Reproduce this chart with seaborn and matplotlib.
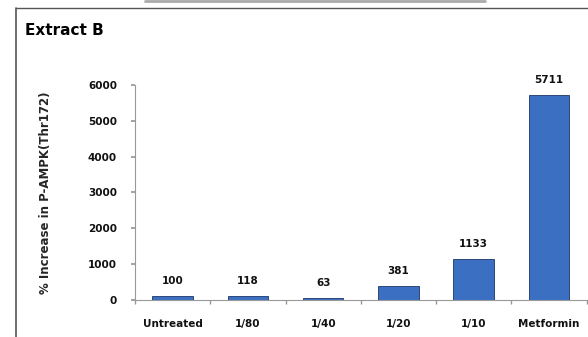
import matplotlib
matplotlib.use("Agg")
import matplotlib.pyplot as plt
import seaborn as sns
import pandas as pd
from matplotlib.lines import Line2D
from matplotlib.ticker import FixedLocator

categories = ["Untreated", "1/80", "1/40", "1/20", "1/10", "Metformin"]
values = [100, 118, 63, 381, 1133, 5711]
yticks = [0, 1000, 2000, 3000, 4000, 5000, 6000]

df = pd.DataFrame({"cat": categories, "val": values})

sns.set_theme(style="white")
plt.rcParams['font.family'] = ['DejaVu Sans']

fig = plt.figure(figsize=(5.88, 3.37), dpi=100)
ax = fig.add_axes([0.2296, 0.1098, 0.768, 0.638])

sns.barplot(data=df, x="cat", y="val", ax=ax, color="#3b6fc2", width=0.54,
            edgecolor="#1c3766", linewidth=0.6, saturation=1)

ax.set_ylim(0, 6000)
ax.set_xlim(-0.5, 5.5)
ax.set_yticks(yticks)
ax.set_yticklabels([str(v) for v in yticks], fontsize=7.5, fontweight="bold", color="#111111")
ax.set_xticks(range(len(categories)))
ax.set_xticklabels(categories, fontsize=7.5, fontweight="bold", color="#111111")
ax.tick_params(axis="x", which="major", length=0, pad=14)
ax.xaxis.set_minor_locator(FixedLocator([i + 0.5 for i in range(-1, 6)]))
ax.tick_params(axis="x", which="minor", length=3, color="#999999", direction="out", bottom=True)
ax.tick_params(axis="y", length=3, color="#999999", direction="out", left=True, pad=10)

for s in ["top", "right"]:
    ax.spines[s].set_visible(False)
for s in ["left", "bottom"]:
    ax.spines[s].set_color("#999999")
    ax.spines[s].set_linewidth(0.8)

ax.set_xlabel("")
ax.set_ylabel("% Increase in P-AMPK(Thr172)", fontsize=8.5, fontweight="bold", labelpad=26)

for i, v in enumerate(values):
    ax.text(i, v + 280, str(v), ha="center", va="bottom", fontsize=7.5,
            fontweight="bold", color="#111111", clip_on=False)

fig.text(0.043, 0.91, "Extract B", fontsize=11, fontweight="bold", ha="left", va="center", color="black")

# frame decorations
fig.add_artist(Line2D([0.027, 0.027], [0.0, 0.975], transform=fig.transFigure, color="#555555", lw=1.2))
fig.add_artist(Line2D([0.027, 1.0], [0.975, 0.975], transform=fig.transFigure, color="#555555", lw=1.0))
fig.add_artist(Line2D([0.247, 0.825], [0.997, 0.997], transform=fig.transFigure, color="#aaaaaa", lw=2.0))

fig.savefig("out.png", dpi=100)
